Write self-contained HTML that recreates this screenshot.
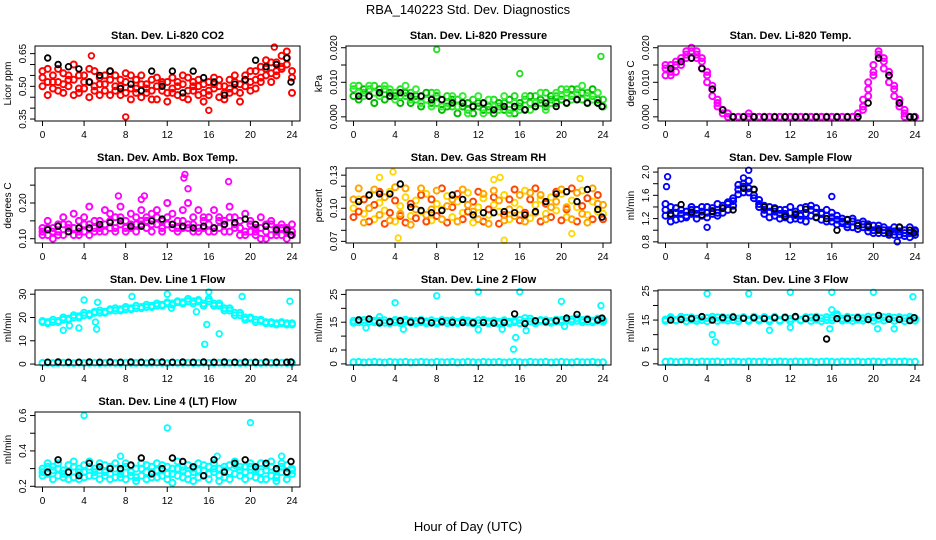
<!DOCTYPE html>
<html><head><meta charset="utf-8"><style>
body{margin:0;background:#fff}
svg{display:block;font-family:"Liberation Sans",sans-serif}
</style></head><body>
<svg id="chart" width="936" height="540" viewBox="0 0 936 540">
<text x="468" y="14" text-anchor="middle" font-size="13">RBA_140223  Std. Dev. Diagnostics</text>
<text x="468" y="531" text-anchor="middle" font-size="13">Hour of Day (UTC)</text>
</svg>
<script>
const hrs=[0,0.5,1,1.5,2,2.5,3,3.5,4,4.5,5,5.5,6,6.5,7,7.5,8,8.5,9,9.5,10,10.5,11,11.5,12,12.5,13,13.5,14,14.5,15,15.5,16,16.5,17,17.5,18,18.5,19,19.5,20,20.5,21,21.5,22,22.5,23,23.5,24];
const blkHrs=[0.5,1.5,2.5,3.5,4.5,5.5,6.5,7.5,8.5,9.5,10.5,11.5,12.5,13.5,14.5,15.5,16.5,17.5,18.5,19.5,20.5,21.5,22.5,23.5,23.9];
const xTicks=[0,4,8,12,16,20,24];

const co2A=[0.54,0.58,0.55,0.52,0.56,0.50,0.53,0.55,0.49,0.52,0.57,0.51,0.48,0.53,0.50,0.46,0.52,0.55,0.49,0.51,0.47,0.53,0.50,0.48,0.52,0.49,0.46,0.51,0.54,0.48,0.50,0.47,0.52,0.49,0.45,0.50,0.53,0.48,0.51,0.55,0.52,0.57,0.54,0.58,0.56,0.61,0.59,0.63,0.57];
const co2B=[0.50,0.46,0.52,0.48,0.47,0.53,0.46,0.49,0.52,0.45,0.48,0.54,0.51,0.46,0.55,0.50,0.47,0.49,0.53,0.45,0.51,0.48,0.44,0.52,0.47,0.54,0.50,0.45,0.48,0.52,0.46,0.51,0.48,0.54,0.50,0.47,0.49,0.52,0.47,0.50,0.48,0.53,0.59,0.55,0.61,0.57,0.64,0.60,0.54];
const co2C=[0.57,0.52,0.49,0.58,0.51,0.55,0.60,0.47,0.55,0.58,0.50,0.46,0.55,0.57,0.48,0.53,0.56,0.44,0.47,0.55,0.49,0.44,0.54,0.51,0.43,0.47,0.52,0.55,0.44,0.50,0.53,0.43,0.46,0.51,0.53,0.44,0.47,0.55,0.43,0.53,0.57,0.49,0.52,0.62,0.52,0.55,0.58,0.66,0.47];
const co2OutX=[8,16,4.7,22.3];
const co2OutY=[0.36,0.39,0.64,0.68];
const co2Blk=[0.63,0.60,0.59,0.58,0.52,0.55,0.57,0.49,0.51,0.48,0.57,0.50,0.57,0.47,0.57,0.54,0.52,0.46,0.51,0.53,0.62,0.59,0.60,0.63,0.52];

const presA=[.008,.009,.007,.008,.009,.007,.008,.006,.007,.008,.006,.007,.005,.006,.005,.007,.004,.005,.006,.003,.005,.004,.002,.005,.003,.004,.002,.005,.003,.004,.002,.006,.003,.005,.004,.006,.004,.007,.005,.006,.008,.007,.006,.008,.005,.007,.006,.004,.005];
const presB=[.006,.005,.008,.006,.004,.008,.005,.007,.006,.004,.007,.004,.006,.003,.007,.004,.006,.002,.003,.005,.001,.003,.004,.001,.004,.002,.003,.001,.004,.002,.005,.001,.004,.002,.006,.003,.005,.003,.006,.004,.005,.004,.008,.005,.007,.004,.008,.005,.003];
const presC=[.009,.007,.006,.009,.007,.006,.009,.008,.005,.006,.009,.005,.008,.004,.005,.003,.007,.003,.004,.006,.003,.006,.001,.003,.006,.001,.005,.003,.002,.006,.001,.004,.002,.006,.002,.004,.007,.002,.004,.007,.006,.008,.005,.007,.009,.006,.005,.007,.003];
const presOutX=[8,16,23.8];
const presOutY=[0.0195,0.0125,0.0175];
const presBlk=[.006,.006,.007,.006,.007,.006,.006,.005,.005,.004,.004,.003,.004,.002,.003,.003,.002,.003,.004,.003,.004,.005,.004,.004,.003];

const ltA=[.014,.013,.015,.016,.018,.019,.018,.016,.012,.008,.004,.001,0,0,0,0,0,0,0,0,0,0,0,0,0,0,0,0,0,0,0,0,0,0,0,0,0,0,.003,.008,.013,.018,.016,.012,.008,.004,.001,0,0];
const ltB=[.012,.015,.013,.017,.019,.017,.019,.014,.010,.006,.003,.002,.001,0,0,0,.001,0,0,0,0,0,0,0,0,0,0,0,0,0,0,0,0,0,0,0,0,.001,.005,.010,.015,.019,.014,.010,.006,.003,0,0,0];
const ltC=[.015,.012,.016,.015,.017,.020,.017,.017,.013,.009,.005,.002,.001,0,0,0,0,0,0,0,0,0,0,0,0,0,0,0,0,0,0,0,0,0,0,0,0,0,.002,.006,.012,.017,.017,.013,.009,.005,.002,0,0];
const ltOutX=[];
const ltOutY=[];
const ltBlk=[.014,.016,.017,.014,.008,.002,0,0,0,0,0,0,0,0,0,0,0,0,0,.004,.017,.012,.004,0,0];

const ambA=[.12,.11,.13,.12,.14,.12,.13,.15,.12,.14,.13,.15,.14,.13,.16,.14,.15,.13,.16,.14,.15,.17,.14,.13,.16,.14,.15,.13,.14,.16,.13,.15,.14,.13,.15,.14,.16,.13,.15,.12,.14,.11,.13,.12,.14,.11,.13,.12,.12];
const ambB=[.11,.13,.10,.14,.11,.13,.11,.12,.14,.11,.12,.13,.12,.15,.12,.16,.13,.14,.12,.15,.13,.14,.16,.12,.14,.13,.12,.15,.13,.14,.12,.13,.16,.12,.13,.15,.12,.14,.13,.11,.12,.13,.10,.14,.11,.12,.11,.13,.11];
const ambC=[.13,.15,.12,.11,.16,.14,.17,.11,.16,.19,.15,.12,.18,.17,.13,.19,.12,.17,.14,.18,.16,.12,.18,.15,.20,.17,.13,.18,.20,.12,.18,.16,.12,.18,.16,.12,.19,.16,.11,.17,.15,.12,.16,.10,.15,.13,.14,.10,.14];
const ambOutX=[13.7,13.6,17.9,14,9.8,7.3,9.5];
const ambOutY=[.28,.27,.26,.24,.22,.22,.21];
const ambBlk=[.125,.135,.12,.13,.13,.14,.145,.15,.135,.135,.15,.155,.14,.135,.13,.135,.13,.14,.145,.155,.14,.135,.125,.125,.11];

const rhA=[.100,.108,.095,.112,.090,.105,.098,.115,.088,.102,.110,.093,.107,.097,.113,.089,.104,.099,.111,.092,.106,.096,.114,.087,.101,.109,.094,.103,.097,.112,.090,.105,.099,.116,.091,.103,.108,.095,.110,.098,.113,.092,.107,.101,.116,.094,.106,.097,.095];
const rhB=[.092,.097,.108,.088,.103,.115,.086,.096,.107,.093,.087,.104,.091,.112,.088,.108,.093,.118,.087,.101,.113,.090,.097,.106,.115,.088,.099,.110,.086,.094,.108,.117,.089,.096,.108,.118,.088,.104,.092,.115,.089,.099,.118,.088,.102,.109,.090,.112,.090];
const rhC=[.108,.118,.087,.100,.117,.094,.110,.089,.119,.095,.118,.085,.099,.118,.094,.099,.116,.090,.102,.108,.088,.117,.103,.097,.090,.113,.086,.116,.107,.089,.099,.093,.112,.088,.114,.096,.112,.090,.101,.106,.117,.101,.090,.114,.095,.087,.118,.104,.103];
const rhOutX=[2.5,3.8,13.5,14.1,21.8,4.3,14.5,21];
const rhOutY=[.128,.133,.126,.128,.127,.073,.071,.077];
const rhBlk=[.106,.112,.113,.113,.122,.101,.098,.096,.098,.112,.108,.094,.096,.096,.097,.096,.094,.097,.106,.113,.115,.106,.117,.099,.092];

const sfA=[1.35,1.25,1.30,1.20,1.32,1.28,1.35,1.25,1.30,1.38,1.30,1.42,1.45,1.55,1.70,1.75,1.72,1.60,1.45,1.35,1.32,1.25,1.28,1.22,1.30,1.20,1.25,1.28,1.35,1.22,1.30,1.25,1.15,1.18,1.12,1.10,1.15,1.08,1.05,1.10,1.00,1.02,0.95,1.00,0.98,0.92,1.00,0.95,0.98];
const sfB=[1.25,1.40,1.18,1.35,1.22,1.40,1.20,1.32,1.40,1.28,1.45,1.30,1.35,1.50,1.62,1.80,1.65,1.70,1.40,1.28,1.40,1.32,1.20,1.35,1.18,1.32,1.38,1.15,1.42,1.30,1.18,1.35,1.22,1.10,1.20,1.18,1.05,1.12,1.15,0.98,1.08,0.95,1.05,0.92,1.05,0.98,0.90,1.05,0.92];
const sfC=[1.45,1.15,1.38,1.28,1.25,1.35,1.28,1.40,1.22,1.33,1.25,1.38,1.48,1.42,1.78,1.65,1.85,1.55,1.52,1.42,1.22,1.38,1.35,1.28,1.40,1.26,1.18,1.40,1.25,1.38,1.28,1.15,1.30,1.25,1.15,1.05,1.20,1.02,1.10,1.05,0.95,1.08,1.00,0.98,0.92,1.05,0.95,0.88,1.00];
const sfOutX=[0.2,0.1,8,4,16,22.3,7.5];
const sfOutY=[1.92,1.75,2.03,1.05,1.58,0.80,1.90];
const sfBlk=[1.28,1.44,1.31,1.26,1.32,1.38,1.35,1.72,1.70,1.40,1.37,1.24,1.28,1.36,1.22,1.20,1.00,1.18,1.08,1.07,1.00,0.95,1.05,1.00,0.95];

const l1A=[18,18,18,18.5,19,19.5,20,20.5,21,21.5,22,22,22.5,23,23,23.5,23.5,24,24,24.5,24.5,25,25,25.5,26,26,26.5,26.5,27,27,27.5,26,27,26,25,24,23,22,21,20,19.5,19,18.5,18,17.5,17.5,17.5,17.5,17.5];
const l1B=[18.5,17.5,19,18,20,19,21,20,22,21,22.5,23,22,23.5,24,23,24.5,23.5,25,24,25.5,24.5,26,25,26.5,25.5,27,26,28,26,27,25,28,25,26,23,24,21,22,19,20,18,19,17.5,18,17,18,17,17];
const l1C=[0.5,0.6,0.4,0.5,0.6,0.5,0.4,0.6,0.5,0.5,0.6,0.4,0.5,0.6,0.5,0.4,0.6,0.5,0.5,0.6,0.4,0.5,0.6,0.5,0.4,0.6,0.5,0.5,0.6,0.4,0.5,0.6,0.5,0.4,0.6,0.5,0.5,0.6,0.4,0.5,0.6,0.5,0.4,0.6,0.5,0.5,0.6,0.4,0.5];
const l1OutX=[4,5.3,8.6,12,16,19.2,23.8,15.6,15.8,17,2,3.5,5.2,5.1,2.6,12.4,14.8];
const l1OutY=[27.5,26.5,29,30,31,29,27,8.5,17,13,14.5,15.5,15,18,16.5,24,22.5];
const l1Blk=[0.8,0.9,0.8,0.8,0.9,0.8,0.9,0.8,0.9,0.8,0.9,0.9,0.8,0.9,0.8,0.9,0.8,0.9,0.8,0.9,0.8,0.9,0.8,0.8,0.9];

const l2A=[15.5,15,15.8,15.2,15,15.5,14.8,15.3,15,15.6,15.2,14.8,15.4,15,15.3,14.8,15.2,15,15.5,14.8,15.1,15.4,14.9,15.2,14.7,15,15.3,14.8,15.1,14.9,15.2,15,15.8,16.5,15.3,15.1,15.5,15,15.4,15.2,15.8,15.5,16,15.5,15.8,15.3,15.6,15.5,15.8];
const l2B=[14.8,15.8,14.9,16,15.6,14.7,15.7,14.6,15.8,14.7,15.9,15.5,14.6,15.8,14.6,15.7,14.5,15.8,14.7,15.7,14.6,15.8,15.6,14.5,15.7,15.8,14.6,15.6,14.5,15.7,14.6,15.6,14.6,15.2,16.3,14.6,15.8,15.7,14.8,15.9,15.1,16.2,15.2,16.4,15,16.2,15,16.3,15.2];
const l2C=[0.6,0.7,0.5,0.6,0.7,0.6,0.5,0.7,0.6,0.6,0.7,0.5,0.6,0.7,0.6,0.5,0.7,0.6,0.6,0.7,0.5,0.6,0.7,0.6,0.5,0.7,0.6,0.6,0.7,0.5,0.6,0.7,0.6,0.5,0.7,0.6,0.6,0.7,0.5,0.6,0.7,0.6,0.5,0.7,0.6,0.6,0.7,0.5,0.6];
const l2OutX=[4,8,12,16,20,23.8,15.6,15.4,1.2,4.8,12,14.3,16.6,20.3,2.5];
const l2OutY=[22,24.5,26,26,22.5,21,9.5,5.3,13,12.5,12.3,12.5,12,13.5,17];
const l2Blk=[15.8,16.2,14.8,15.2,15.5,15.0,15.6,14.8,15.2,15.0,14.9,14.8,14.9,14.7,14.9,18.0,14.5,15.5,15.2,15.5,16.5,17.8,16.0,15.8,16.5];

const l3A=[15.2,15.6,15.0,15.4,15.8,15.1,15.5,15.0,15.7,15.3,15.9,15.2,15.6,15.0,15.5,15.8,15.1,15.6,15.3,15.9,15.2,15.7,15.0,15.6,15.4,15.8,15.1,15.5,15.9,15.2,15.6,15.0,15.8,16.4,15.5,15.2,15.7,15.1,15.6,15.3,15.9,15.4,16.0,15.5,15.8,15.3,15.6,15.2,15.6];
const l3B=[14.7,16.0,14.8,16.1,14.6,15.9,14.7,16.0,14.6,16.1,14.7,16.0,14.8,16.1,14.6,16.0,14.7,16.1,14.8,16.0,14.6,16.1,14.7,16.0,14.6,16.1,14.8,16.0,14.7,16.1,14.6,16.0,14.9,17.0,14.8,16.1,14.7,16.0,14.8,16.2,14.7,16.3,14.8,16.1,14.7,16.0,14.6,16.1,14.8];
const l3C=[0.7,0.8,0.6,0.7,0.8,0.7,0.6,0.8,0.7,0.7,0.8,0.6,0.7,0.8,0.7,0.6,0.8,0.7,0.7,0.8,0.6,0.7,0.8,0.7,0.6,0.8,0.7,0.7,0.8,0.6,0.7,0.8,0.7,0.6,0.8,0.7,0.7,0.8,0.6,0.7,0.8,0.7,0.6,0.8,0.7,0.7,0.8,0.6,0.7];
const l3OutX=[4,8,12,16,20,23.8,4.8,4.5,15.8,12,20.4,10,22,16];
const l3OutY=[24,24,24.5,24.5,24.5,23,7.5,10,12,12.5,12,11.5,12,18.5];
const l3Blk=[15.0,15.2,15.5,16.2,15.0,15.8,16.0,15.6,15.8,15.5,15.8,15.9,16.2,15.5,15.8,8.5,15.5,15.6,15.8,15.2,16.6,15.3,15.2,14.8,15.8];

const l4A=[0.30,0.27,0.31,0.26,0.29,0.32,0.25,0.30,0.28,0.31,0.26,0.29,0.32,0.27,0.30,0.25,0.31,0.28,0.30,0.26,0.32,0.28,0.29,0.26,0.31,0.27,0.30,0.25,0.32,0.28,0.29,0.26,0.31,0.28,0.30,0.25,0.32,0.27,0.29,0.31,0.26,0.30,0.28,0.32,0.26,0.29,0.31,0.27,0.29];
const l4B=[0.26,0.31,0.24,0.30,0.25,0.28,0.31,0.24,0.32,0.26,0.30,0.24,0.28,0.31,0.25,0.29,0.24,0.32,0.25,0.30,0.24,0.31,0.25,0.32,0.24,0.30,0.26,0.31,0.24,0.30,0.25,0.32,0.24,0.30,0.26,0.31,0.24,0.32,0.26,0.24,0.31,0.25,0.33,0.24,0.31,0.25,0.28,0.32,0.27];
const l4C=[0.28,0.33,0.29,0.33,0.27,0.24,0.34,0.28,0.25,0.34,0.28,0.33,0.26,0.24,0.33,0.27,0.33,0.26,0.23,0.33,0.28,0.25,0.33,0.29,0.27,0.22,0.34,0.29,0.27,0.23,0.33,0.29,0.27,0.33,0.23,0.29,0.28,0.34,0.31,0.28,0.33,0.29,0.24,0.29,0.34,0.23,0.33,0.24,0.30];
const l4OutX=[4,12,20,7.5,23,16.8];
const l4OutY=[0.60,0.53,0.56,0.37,0.37,0.37];
const l4Blk=[0.28,0.35,0.28,0.26,0.33,0.31,0.30,0.30,0.32,0.36,0.27,0.30,0.36,0.34,0.31,0.26,0.35,0.28,0.33,0.35,0.31,0.33,0.30,0.28,0.34];

const panels=[
 {id:'co2',title:'Stan. Dev. Li-820 CO2',ylab:'Licor ppm',ymin:0.341,ymax:0.685,ticks:[0.35,0.40,0.45,0.50,0.55,0.60,0.65],labels:['0.35','','','0.50','','','0.65'],cols:['#ff0000','#ff0000','#ff0000'],A:co2A,B:co2B,C:co2C,ox:co2OutX,oy:co2OutY,blk:co2Blk},
 {id:'pressure',title:'Stan. Dev. Li-820 Pressure',ylab:'kPa',ymin:-0.0012,ymax:0.0205,ticks:[0,0.005,0.01,0.015,0.02],labels:['0.000','','0.010','','0.020'],cols:['#22dd22','#00bb00','#33ee33'],A:presA,B:presB,C:presC,ox:presOutX,oy:presOutY,blk:presBlk},
 {id:'licor-temp',title:'Stan. Dev. Li-820 Temp.',ylab:'degrees C',ymin:-0.0012,ymax:0.0205,ticks:[0,0.005,0.01,0.015,0.02],labels:['0.000','','0.010','','0.020'],cols:['#ff00ff','#ff00ff','#ff00ff'],A:ltA,B:ltB,C:ltC,ox:ltOutX,oy:ltOutY,blk:ltBlk},
 {id:'amb-temp',title:'Stan. Dev. Amb. Box Temp.',ylab:'degrees C',ymin:0.088,ymax:0.298,ticks:[0.10,0.15,0.20,0.25],labels:['0.10','','0.20',''],cols:['#ff00ff','#ff00ff','#ff00ff'],A:ambA,B:ambB,C:ambC,ox:ambOutX,oy:ambOutY,blk:ambBlk},
 {id:'gas-rh',title:'Stan. Dev. Gas Stream RH',ylab:'percent',ymin:0.0685,ymax:0.1365,ticks:[0.07,0.08,0.09,0.10,0.11,0.12,0.13],labels:['0.07','','','0.10','','','0.13'],cols:['#ffd700','#ff4500','#ffa500'],A:rhA,B:rhB,C:rhC,ox:rhOutX,oy:rhOutY,blk:rhBlk},
 {id:'sample-flow',title:'Stan. Dev. Sample Flow',ylab:'ml/min',ymin:0.78,ymax:2.07,ticks:[0.8,1.0,1.2,1.4,1.6,1.8,2.0],labels:['0.8','','1.2','','1.6','','2.0'],cols:['#0000ff','#0000ff','#0000ff'],A:sfA,B:sfB,C:sfC,ox:sfOutX,oy:sfOutY,blk:sfBlk},
 {id:'line1',title:'Stan. Dev. Line 1 Flow',ylab:'ml/min',ymin:-0.4,ymax:31.8,ticks:[0,10,20,30],labels:['0','10','20','30'],cols:['#00ffff','#00ffff','#00ffff'],A:l1A,B:l1B,C:l1C,ox:l1OutX,oy:l1OutY,blk:l1Blk},
 {id:'line2',title:'Stan. Dev. Line 2 Flow',ylab:'ml/min',ymin:-0.4,ymax:26.6,ticks:[0,5,10,15,20,25],labels:['0','5','','15','','25'],cols:['#00ffff','#00ffff','#00ffff'],A:l2A,B:l2B,C:l2C,ox:l2OutX,oy:l2OutY,blk:l2Blk},
 {id:'line3',title:'Stan. Dev. Line 3 Flow',ylab:'ml/min',ymin:-0.4,ymax:25.3,ticks:[0,5,10,15,20,25],labels:['0','5','','15','','25'],cols:['#00ffff','#00ffff','#00ffff'],A:l3A,B:l3B,C:l3C,ox:l3OutX,oy:l3OutY,blk:l3Blk},
 {id:'line4',title:'Stan. Dev. Line 4 (LT) Flow',ylab:'ml/min',ymin:0.196,ymax:0.62,ticks:[0.2,0.3,0.4,0.5,0.6],labels:['0.2','','0.4','','0.6'],cols:['#00ffff','#00ffff','#00ffff'],A:l4A,B:l4B,C:l4C,ox:l4OutX,oy:l4OutY,blk:l4Blk}
];

const NS='http://www.w3.org/2000/svg';
const svg=document.getElementById('chart');
function mk(tag,attrs,parent){const e=document.createElementNS(NS,tag);for(const k in attrs)e.setAttribute(k,attrs[k]);(parent||svg).appendChild(e);return e;}

const colLeft=[35,346,658], boxW=265, boxH=75;
panels.forEach((p,i)=>{
  const r=Math.floor(i/3), c=i%3;
  const L=colLeft[c], T=46+122*r, B=T+boxH;
  const xs=h=>L+7.5+h*(249.5/24);
  const ys=v=>B-(v-p.ymin)/(p.ymax-p.ymin)*boxH;
  const g=mk('g',{});
  
  
  const t=mk('text',{x:L+boxW/2,y:T-7,'text-anchor':'middle','font-size':'11','font-weight':'bold'},g);
  t.textContent=p.title;
  
  
  const pts=mk('g',{fill:'none'},g);
  
  
  [p.A,p.B,p.C].forEach((arr,k)=>{
    arr.forEach((v,j)=>{
      const cEl=mk('circle',{cx:xs(hrs[j]).toFixed(1),cy:ys(v).toFixed(1),r:3,stroke:p.cols[k],'stroke-width':'2'},pts);
      
      
    });
  });
  p.ox.forEach((x,j)=>{
    const cEl=mk('circle',{cx:xs(x).toFixed(1),cy:ys(p.oy[j]).toFixed(1),r:2.8,stroke:p.cols[0],'stroke-width':'1.8'},pts);
    
    
  });
  p.blk.forEach((v,j)=>{
    const cEl=mk('circle',{cx:xs(blkHrs[j]).toFixed(1),cy:ys(v).toFixed(1),r:2.8,stroke:'#000','stroke-width':'1.8'},pts);
    
    
  });
  const box=mk('rect',{x:L,y:T,width:boxW,height:boxH,fill:'none',stroke:'#000','stroke-width':'1'},g);
  
  
  const xa=mk('g',{},g);
  
  
  xTicks.forEach(h=>{
    mk('line',{x1:xs(h),x2:xs(h),y1:B,y2:B+5,stroke:'#000'},xa);
    const tl=mk('text',{x:xs(h),y:B+17,'text-anchor':'middle','font-size':'10'},xa);
    tl.textContent=String(h);
    
    
  });
  const ya=mk('g',{},g);
  
  
  p.ticks.forEach((v,j)=>{
    const y=ys(v);
    mk('line',{x1:L-5,x2:L,y1:y,y2:y,stroke:'#000'},ya);
    if(p.labels[j]){
      const tl=mk('text',{x:L-9,y:y,'text-anchor':'middle','font-size':'10',transform:`rotate(-90 ${L-9} ${y})`},ya);
      tl.textContent=p.labels[j];
      
      
    }
  });
  const yl=mk('text',{x:L-24,y:T+boxH/2,'text-anchor':'middle','font-size':'10',transform:`rotate(-90 ${L-24} ${T+boxH/2})`},g);
  yl.textContent=p.ylab;
  
  
});
</script>
</body></html>
